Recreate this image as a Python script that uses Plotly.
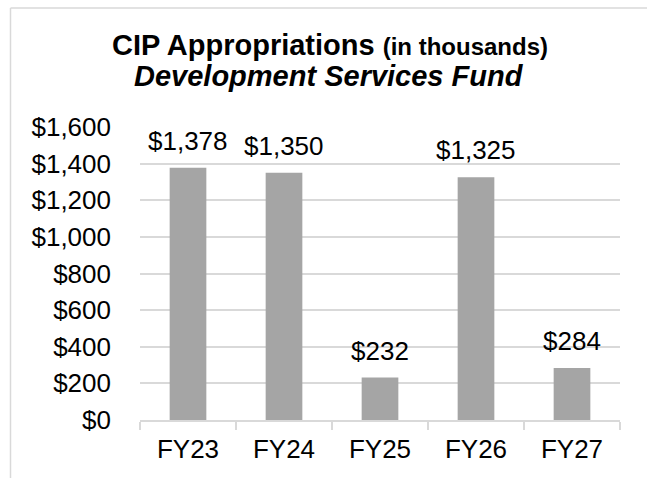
import plotly.graph_objects as go

# CIP appropriations by fiscal year, in thousands of dollars
fiscal_years = ["FY23", "FY24", "FY25", "FY26", "FY27"]
appropriations = [1378, 1350, 232, 1325, 284]
y_ticks = [0, 200, 400, 600, 800, 1000, 1200, 1400, 1600]

W, H = 647, 478
M_L, M_R, M_T, M_B = 140, 27, 127.4, 57.7
plot_h = H - M_T - M_B
plot_w = W - M_L - M_R

def py(px):
    """Pixel row -> paper y."""
    return (H - M_B - px) / plot_h

def px_x(px):
    """Pixel column -> paper x."""
    return (px - M_L) / plot_w

FONT = "Liberation Sans, Arial, sans-serif"
BAR = "#A5A5A5"
GRID = "#D9D9D9"
LABEL_SIZE = 26

fig = go.Figure(
    go.Bar(
        x=fiscal_years,
        y=appropriations,
        marker=dict(color=BAR, line=dict(width=0)),
        hoverinfo="skip",
    )
)

# value labels above each bar
for fy, v in zip(fiscal_years, appropriations):
    fig.add_annotation(
        x=fy, y=v, xref="x", yref="y",
        text=f"${v:,}",
        showarrow=False,
        yanchor="bottom",
        yshift=10,
        font=dict(family=FONT, size=LABEL_SIZE, color="#000000"),
    )

# two-line chart title
fig.add_annotation(
    x=px_x(330), y=py(45), xref="paper", yref="paper",
    text="<b>CIP Appropriations <span style='font-size:24px'>(in thousands)</span></b>",
    showarrow=False, xanchor="center", yanchor="middle",
    font=dict(family=FONT, size=29, color="#000000"),
)
fig.add_annotation(
    x=px_x(328.5), y=py(76), xref="paper", yref="paper",
    text="<b><i>Development Services Fund</i></b>",
    showarrow=False, xanchor="center", yanchor="middle",
    font=dict(family=FONT, size=29, color="#000000"),
)

# chart frame (top and left edges)
fig.add_shape(type="line", xref="paper", yref="paper",
              x0=px_x(10.5), x1=px_x(660), y0=py(8.5), y1=py(8.5),
              line=dict(color=GRID, width=1.5))
fig.add_shape(type="line", xref="paper", yref="paper",
              x0=px_x(10.5), x1=px_x(10.5), y0=py(8.5), y1=py(490),
              line=dict(color=GRID, width=1.5))

fig.update_layout(
    width=W, height=H,
    margin=dict(l=M_L, r=M_R, t=M_T, b=M_B, pad=0),
    paper_bgcolor="white", plot_bgcolor="white",
    bargap=0.618,
    showlegend=False,
    font=dict(family=FONT, size=LABEL_SIZE, color="#000000"),
    xaxis=dict(
        showline=True, linecolor=GRID, linewidth=1.5,
        ticks="outside", ticklen=8, tickcolor=GRID, tickwidth=1.5,
        tickson="boundaries",
        showgrid=False,
        ticklabelstandoff=5,
        tickfont=dict(family=FONT, size=LABEL_SIZE, color="#000000"),
        fixedrange=True,
    ),
    yaxis=dict(
        range=[0, 1600],
        tickvals=y_ticks,
        ticktext=[f"${t:,}" for t in y_ticks],
        showgrid=True, gridcolor=GRID, gridwidth=1.5,
        zeroline=False, showline=False, ticks="",
        ticklabelstandoff=28,
        tickfont=dict(family=FONT, size=LABEL_SIZE, color="#000000"),
        fixedrange=True,
    ),
)

fig.write_html("out.html")
